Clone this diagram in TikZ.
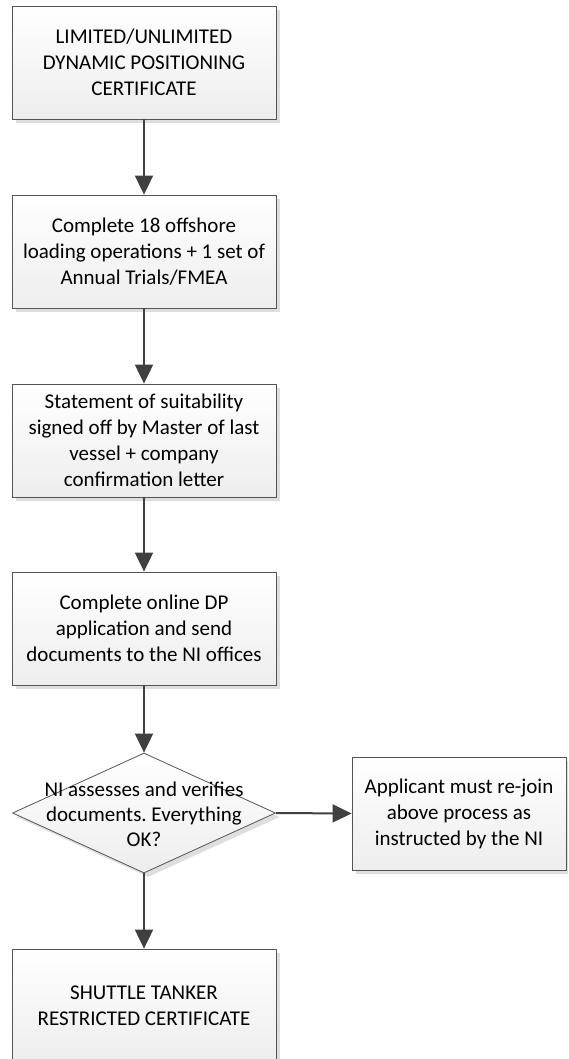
\documentclass[tikz,border=0pt]{standalone}
\usepackage{fontspec}
\setmainfont{Carlito}
\frenchspacing
\usetikzlibrary{shapes.geometric,arrows.meta,shadows}
\definecolor{edgegray}{HTML}{555555}
\definecolor{arrowgray}{HTML}{404040}
\tikzset{
  procbox/.style={draw=edgegray, line width=0.8pt, top color=white, bottom color=black!7,
    minimum width=264pt, minimum height=113pt, inner sep=0pt, align=center,
    font=\fontsize{21pt}{26pt}\selectfont, text=black,
    general shadow={shadow xshift=4pt, shadow yshift=-4pt, fill=black!13}},
  sidebox/.style={procbox, minimum width=214pt},
  decision/.style={draw=edgegray, line width=0.8pt, diamond, top color=white, bottom color=black!7,
    minimum width=263pt, minimum height=120pt, inner sep=0pt,
    general shadow={shadow xshift=4pt, shadow yshift=-4pt, fill=black!13}},
  dectext/.style={align=center, font=\fontsize{21pt}{25pt}\selectfont, text=black, inner sep=0pt},
  flow/.style={draw=arrowgray, line width=2pt, -{Triangle[width=18pt,length=19pt]}}
}
\begin{document}
\begin{tikzpicture}[x=1pt,y=-1pt]
\useasboundingbox (0,0) rectangle (568,1059);
\clip (0,0) rectangle (568,1059);
\node[procbox] (b1) at (144,62.5) {LIMITED/UNLIMITED\\DYNAMIC POSITIONING\\CERTIFICATE};
\node[procbox] (b2) at (144,251.5) {Complete 18 offshore\\loading operations + 1 set of\\Annual Trials/FMEA};
\node[procbox] (b3) at (144,440.5) {Statement of suitability\\signed off by Master of last\\vessel + company\\confirmation letter};
\node[procbox] (b4) at (144,628.5) {Complete online DP\\application and send\\documents to the NI offices};
\node[decision] (d) at (144,813) {};
\node[dectext] (dt) at (144,814) {NI assesses and verifies\\documents. Everything\\OK?};
\node[sidebox] (r) at (459,813.5) {Applicant must re-join\\above process as\\instructed by the NI};
\node[procbox] (b5) at (144,1005.5) {SHUTTLE TANKER\\RESTRICTED CERTIFICATE};
\draw[flow] (b1.south) -- (b2.north);
\draw[flow] (b2.south) -- (b3.north);
\draw[flow] (b3.south) -- (b4.north);
\draw[flow] (b4.south) -- (d.north);
\draw[flow] (d.east) -- (r.west);
\draw[flow] (d.south) -- (b5.north);
\end{tikzpicture}
\end{document}
